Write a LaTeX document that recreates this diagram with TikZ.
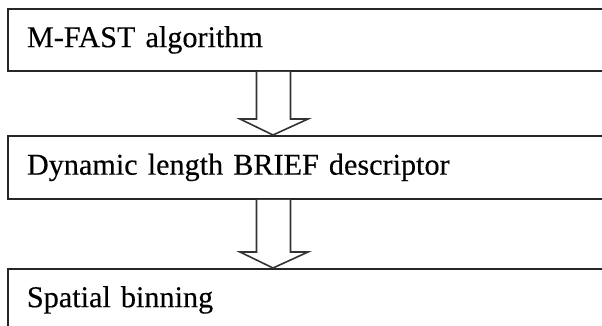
\documentclass[tikz,border=0pt]{standalone}
\usepackage{fontspec}
\setmainfont[WordSpace=0.45,FakeBold=0.3]{Liberation Serif}
\usetikzlibrary{calc}
\begin{document}
\begin{tikzpicture}[x=1pt,y=-1pt,
  stage/.style={draw=black!85,line width=1.9pt,rectangle,anchor=north west,
    inner xsep=19pt,inner ysep=0pt,text width=590pt,align=left,
    font=\fontsize{30.2}{32}\selectfont},
  blockarrow/.style={draw=black!80,line width=1.6pt,fill=white,line join=miter}]
\useasboundingbox (0,0) rectangle (602,326);
% process stages
\node[stage,minimum height=62pt] (b1) at (7,8) {M-FAST algorithm};
\node[stage,minimum height=63pt] (b2) at (7,135) {Dynamic length BRIEF descriptor};
\node[stage,minimum height=62pt] (b3) at (7,268) {Spatial binning};
% hollow block arrows between stages
\foreach \src/\dst in {b1/b2,b2/b3}{
  \coordinate (top) at ($(\src.south west)+(266,0)$);
  \coordinate (tip) at ($(\dst.north west)+(266,0)$);
  \draw[blockarrow] ($(top)+(-16.5,0)$) -- ($(tip)+(-16.5,-16)$)
    -- ($(tip)+(-33,-16)$) -- (tip) -- ($(tip)+(35,-16)$)
    -- ($(tip)+(17.5,-16)$) -- ($(top)+(17.5,0)$);
}
\end{tikzpicture}
\end{document}
